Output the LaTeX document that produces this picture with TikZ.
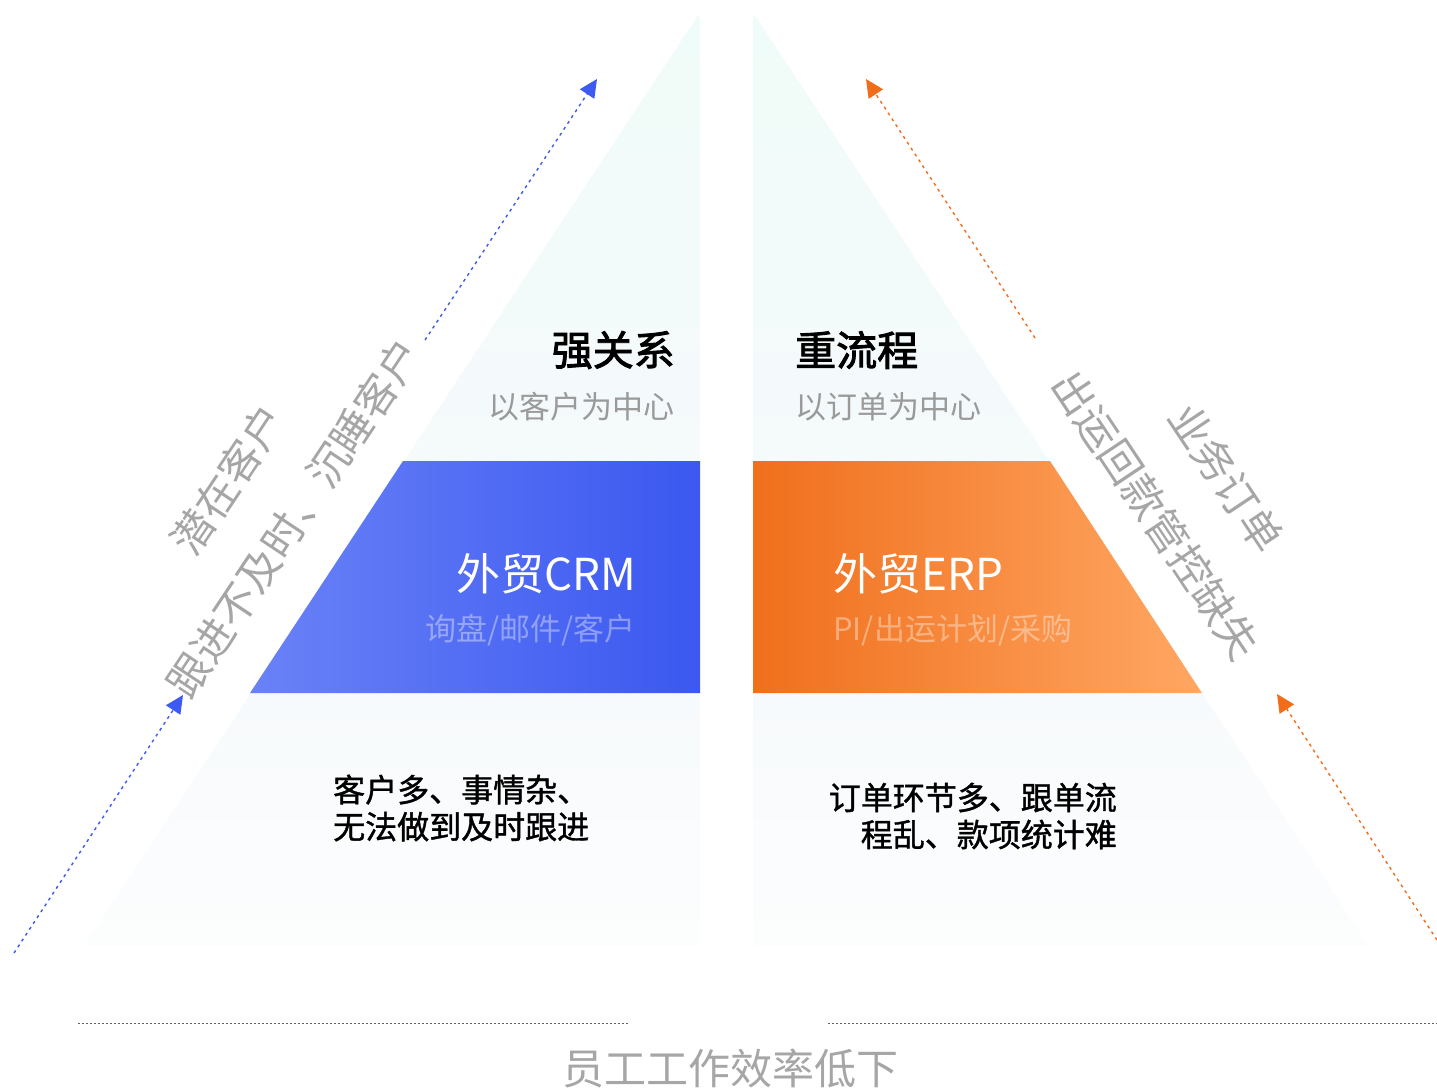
\documentclass[tikz,border=0pt]{standalone}
\usepackage{fontspec}
\setmainfont{Noto Sans CJK SC}
\newfontfamily\cjkmed{Noto Sans CJK SC}[FakeBold=1.2]
\newfontfamily\cjkhead{Noto Sans CJK SC}[FakeBold=2.2]
\usetikzlibrary{arrows.meta}
\definecolor{mintA}{HTML}{F0FCF9}
\definecolor{mintB}{HTML}{F5FAFB}
\definecolor{paleA}{HTML}{F7FAFC}
\definecolor{paleB}{HTML}{FCFDFD}
\definecolor{blueL}{HTML}{6A82F7}
\definecolor{blueR}{HTML}{3B58F0}
\definecolor{orgL}{HTML}{F06F1C}
\definecolor{orgR}{HTML}{FFA763}
\definecolor{arrBlue}{HTML}{3D5AF1}
\definecolor{arrOrg}{HTML}{F26D1A}
\definecolor{greyT}{HTML}{A6A6A6}
\definecolor{greyS}{HTML}{9A9A9A}
\definecolor{lineG}{HTML}{606060}
\tikzset{
  titletext/.style={inner sep=0pt, text=black, font=\cjkhead\fontsize{41}{48}\selectfont},
  subtext/.style={inner sep=0pt, text=greyS, font=\fontsize{31}{37}\selectfont},
  prodtext/.style={inner sep=0pt, text=white, font=\fontsize{44}{52}\selectfont},
  prodsub/.style={inner sep=0pt, text=white, text opacity=0.38, font=\fontsize{31}{37}\selectfont},
  bodytext/.style={inner sep=0pt, text=black, font=\cjkmed\fontsize{32}{37}\selectfont},
  sidetext/.style={inner sep=0pt, text=greyT, font=\fontsize{42}{50}\selectfont},
  bluearrow/.style={draw=arrBlue, line width=1.4pt, dash pattern=on 3pt off 4pt, -{Triangle[length=18pt,width=17pt]}},
  orgarrow/.style={draw=arrOrg, line width=1.4pt, dash pattern=on 3pt off 4pt, -{Triangle[length=18pt,width=17pt]}},
  baseline/.style={draw=lineG, line width=1pt, dash pattern=on 2pt off 2pt}
}
\begin{document}
\begin{tikzpicture}[x=1pt,y=-1pt]
\useasboundingbox (0,0) rectangle (1437,1090);
\fill[white] (0,0) rectangle (1437,1090);
% left triangle
\shade[top color=mintA, bottom color=mintB] (699,14) -- (700,20) -- (700,461) -- (404,461) -- cycle;
\shade[top color=paleA, bottom color=paleB] (251,693) -- (700,693) -- (700,945) -- (85,945) -- cycle;
\shade[left color=blueL, right color=blueR] (403,461) -- (700,461) -- (700,693) -- (250,693) -- cycle;
% right triangle
\shade[top color=mintA, bottom color=mintB] (754,14) -- (753,20) -- (753,461) -- (1049,461) -- cycle;
\shade[top color=paleA, bottom color=paleB] (753,693) -- (1202,693) -- (1368,945) -- (753,945) -- cycle;
\shade[left color=orgL, right color=orgR] (753,461) -- (1050,461) -- (1202,693) -- (753,693) -- cycle;
% texts
\node[titletext, anchor=east] (t1) at (675,350) {强关系};
\node[subtext, anchor=east] (s1) at (675,407) {以客户为中心};
\node[titletext, anchor=west] (t2) at (795,350) {重流程};
\node[subtext, anchor=west] (s2) at (795,407) {以订单为中心};
\node[prodtext, anchor=east] (p1) at (636,574) {外贸CRM};
\node[prodsub, anchor=east] (q1) at (636,630) {询盘/邮件/客户};
\node[prodtext, anchor=west] (p2) at (833,574) {外贸ERP};
\node[prodsub, anchor=west] (q2) at (833,630) {PI/出运计划/采购};
\node[bodytext, anchor=west, align=left] (b1) at (333,808) {客户多、事情杂、\\无法做到及时跟进};
\node[bodytext, anchor=east, align=right] (b2) at (1117,816) {订单环节多、跟单流\\程乱、款项统计难};
\node[sidetext, rotate=56.3] (l1) at (228,480) {潜在客户};
\node[sidetext, rotate=56.3] (l2) at (294,518) {跟进不及时、沉睡客户};
\node[sidetext, rotate=-56.3] (r1) at (1226,478) {业务订单};
\node[sidetext, rotate=-56.3] (r2) at (1156,515) {出运回款管控缺失};
\node[inner sep=0pt, text=greyT, font=\fontsize{42}{50}\selectfont] (bt) at (730,1068) {员工工作效率低下};
% arrows
\coordinate (ba1) at (14,953);
\coordinate (ba2) at (183,695);
\coordinate (ba3) at (425,340);
\coordinate (ba4) at (597,79);
\coordinate (oa1) at (1035,338);
\coordinate (oa2) at (866,79);
\coordinate (oa3) at (1437,940);
\coordinate (oa4) at (1277,694);
\draw[bluearrow] (ba1) -- (ba2);
\draw[bluearrow] (ba3) -- (ba4);
\draw[orgarrow] (oa1) -- (oa2);
\draw[orgarrow] (oa3) -- (oa4);
% bottom dashed lines
\coordinate (d1) at (78,1023);
\coordinate (d2) at (628,1023);
\coordinate (d3) at (828,1023);
\coordinate (d4) at (1437,1023);
\draw[baseline] (d1) -- (d2);
\draw[baseline] (d3) -- (d4);
\end{tikzpicture}
\end{document}
